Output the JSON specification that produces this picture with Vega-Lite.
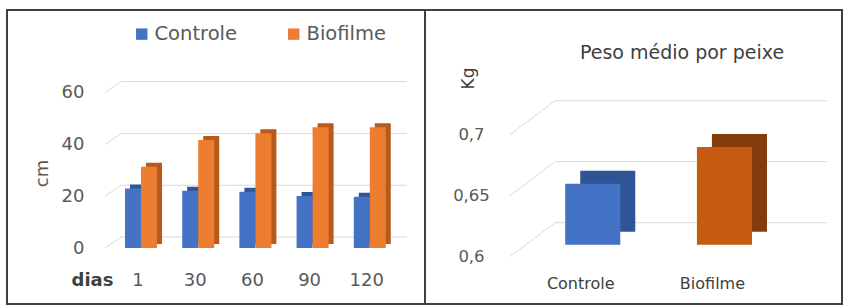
{
  "$schema": "https://vega.github.io/schema/vega-lite/v6.json",
  "background": "white",
  "padding": {"left": 6, "top": 9, "right": 0, "bottom": 0},
  "bounds": "flush",
  "spacing": 0,
  "config": {
    "font": "DejaVu Sans",
    "view": {"stroke": "#404040", "strokeWidth": 2},
    "axis": {"labelColor": "#595959", "titleColor": "#595959", "ticks": false, "tickSize": 0, "domain": false, "grid": false, "labelPadding": 0, "titleFontWeight": "normal"}
  },
  "resolve": {"scale": {"color": "independent"}, "legend": {"color": "independent"}},
  "hconcat": [
    {
      "width": 418,
      "height": 294,
      "data": {"values": [
        {"dia": "1", "grupo": "Controle", "cm": 23.0},
        {"dia": "1", "grupo": "Biofilme", "cm": 31.4},
        {"dia": "30", "grupo": "Controle", "cm": 22.1},
        {"dia": "30", "grupo": "Biofilme", "cm": 41.7},
        {"dia": "60", "grupo": "Controle", "cm": 21.7},
        {"dia": "60", "grupo": "Biofilme", "cm": 44.3},
        {"dia": "90", "grupo": "Controle", "cm": 20.1},
        {"dia": "90", "grupo": "Biofilme", "cm": 46.6},
        {"dia": "120", "grupo": "Controle", "cm": 19.8},
        {"dia": "120", "grupo": "Biofilme", "cm": 46.6}
      ]},
      "resolve": {"scale": {"x": "independent", "color": "independent"}, "legend": {"color": "independent"}},
      "layer": [
        {
          "data": {"values": [{"cm": 0}, {"cm": 20}, {"cm": 40}, {"cm": 60}]},
          "mark": {"type": "rule", "color": "#d9d9d9", "strokeWidth": 1, "yOffset": -11},
          "encoding": {
            "x": {"datum": 27.3, "type": "quantitative", "scale": {"domain": [0, 100], "nice": false}, "axis": null},
            "x2": {"datum": 95.7},
            "y": {"field": "cm", "type": "quantitative", "title": "cm", "scale": {"domain": [-21.6, 91.9], "nice": false, "zero": false}}
          }
        },
        {
          "data": {"values": [{"cm": 0}, {"cm": 20}, {"cm": 40}, {"cm": 60}]},
          "mark": {"type": "rule", "color": "#d9d9d9", "strokeWidth": 1, "y2Offset": -11},
          "encoding": {
            "x": {"datum": 23.4, "type": "quantitative", "scale": {"domain": [0, 100], "nice": false}, "axis": null},
            "x2": {"datum": 27.3},
            "y": {"field": "cm", "type": "quantitative", "title": "cm"},
            "y2": {"field": "cm"}
          }
        },
        {
          "mark": {"type": "bar", "yOffset": -4},
          "encoding": {
            "x": {"field": "dia", "type": "nominal", "sort": ["1", "30", "60", "90", "120"], "scale": {"range": [123, 383.8], "paddingInner": 0.44, "paddingOuter": 0}, "axis": null},
            "xOffset": {"field": "grupo", "sort": ["Controle", "Biofilme"]},
            "y": {"field": "cm", "type": "quantitative", "title": "cm"},
            "color": {"field": "grupo", "type": "nominal", "scale": {"domain": ["Controle", "Biofilme"], "range": ["#2f5597", "#b85a1c"]}, "legend": null}
          }
        },
        {
          "mark": {"type": "bar"},
          "encoding": {
            "x": {"field": "dia", "type": "nominal", "sort": ["1", "30", "60", "90", "120"], "scale": {"range": [118, 378.8], "paddingInner": 0.44, "paddingOuter": 0},
              "axis": {"orient": "bottom", "offset": -24, "labelBaseline": "middle", "labelFontSize": 18, "labelOffset": -3, "labelAngle": 0, "title": "dias", "titleX": 85, "titleY": 0, "titleBaseline": "middle", "titleAlign": "center", "titleFontWeight": "bold", "titleFontSize": 18, "titleColor": "#404040"}},
            "xOffset": {"field": "grupo", "sort": ["Controle", "Biofilme"]},
            "y": {"field": "cm", "type": "quantitative", "title": "cm",
              "axis": {"orient": "left", "offset": -77, "values": [0, 20, 40, 60], "labelAlign": "right", "labelBaseline": "middle", "labelFontSize": 18, "title": "cm", "titleX": -42, "titleY": 163, "titleAngle": -90, "titleAlign": "center", "titleBaseline": "middle", "titleFontSize": 18}},
            "color": {"field": "grupo", "type": "nominal", "scale": {"domain": ["Controle", "Biofilme"], "range": ["#4472c4", "#ed7d31"]},
              "legend": {"title": null, "orient": "none", "legendX": 125, "legendY": 14, "direction": "horizontal", "symbolType": "square", "symbolSize": 130, "symbolStrokeWidth": 0, "labelFontSize": 19.5, "labelColor": "#595959", "labelOffset": 3, "columnPadding": 47}}
          }
        }
      ]
    },
    {
      "width": 417,
      "height": 294,
      "title": {"text": "Peso médio por peixe", "anchor": "middle", "frame": "group", "offset": 0, "dx": 48.5, "dy": 62, "baseline": "middle", "fontSize": 19, "fontWeight": "normal", "color": "#404040"},
      "data": {"values": [
        {"grupo": "Controle", "kg": 0.65},
        {"grupo": "Biofilme", "kg": 0.68}
      ]},
      "resolve": {"scale": {"x": "independent", "color": "independent"}, "legend": {"color": "independent"}},
      "layer": [
        {
          "data": {"values": [{"kg": 0.6}, {"kg": 0.65}, {"kg": 0.7}]},
          "mark": {"type": "rule", "color": "#d9d9d9", "strokeWidth": 1, "yOffset": -34},
          "encoding": {
            "x": {"datum": 31.2, "type": "quantitative", "scale": {"domain": [0, 100], "nice": false}, "axis": null},
            "x2": {"datum": 96.4},
            "y": {"field": "kg", "type": "quantitative", "title": "Kg", "scale": {"domain": [0.5612, 0.8022], "nice": false, "zero": false}}
          }
        },
        {
          "data": {"values": [{"kg": 0.6}, {"kg": 0.65}, {"kg": 0.7}]},
          "mark": {"type": "rule", "color": "#d9d9d9", "strokeWidth": 1, "y2Offset": -34},
          "encoding": {
            "x": {"datum": 20.4, "type": "quantitative", "scale": {"domain": [0, 100], "nice": false}, "axis": null},
            "x2": {"datum": 31.2},
            "y": {"field": "kg", "type": "quantitative", "title": "Kg"},
            "y2": {"field": "kg"}
          }
        },
        {
          "mark": {"type": "bar", "xOffset": 15, "yOffset": -25, "y2Offset": -25},
          "encoding": {
            "x": {"field": "grupo", "type": "nominal", "sort": ["Controle", "Biofilme"], "scale": {"paddingInner": 0.582, "paddingOuter": 0.874, "align": 0.609}, "axis": null},
            "y": {"field": "kg", "type": "quantitative", "title": "Kg"},
            "y2": {"datum": 0.6},
            "color": {"field": "grupo", "type": "nominal", "scale": {"domain": ["Controle", "Biofilme"], "range": ["#2f5597", "#843c0c"]}, "legend": null}
          }
        },
        {
          "mark": {"type": "bar", "yOffset": -12, "y2Offset": -12},
          "encoding": {
            "x": {"field": "grupo", "type": "nominal", "sort": ["Controle", "Biofilme"], "scale": {"paddingInner": 0.582, "paddingOuter": 0.874, "align": 0.609},
              "axis": {"orient": "bottom", "offset": -21, "labelBaseline": "middle", "labelFontSize": 16, "labelOffset": -12, "labelAngle": 0, "labelColor": "#404040", "title": null}},
            "y": {"field": "kg", "type": "quantitative", "title": "Kg",
              "axis": {"orient": "left", "offset": -46, "values": [0.6, 0.65, 0.7], "labelExpr": "replace(format(datum.value, '.2~f'), '.', ',')", "labelAlign": "center", "labelBaseline": "middle", "labelFontSize": 16.5, "title": "Kg", "titleX": -2.3, "titleY": 68, "titleAngle": -90, "titleAlign": "center", "titleBaseline": "middle", "titleFontSize": 17, "titleColor": "#404040"}},
            "y2": {"datum": 0.6},
            "color": {"field": "grupo", "type": "nominal", "scale": {"domain": ["Controle", "Biofilme"], "range": ["#4472c4", "#c55a11"]}, "legend": null}
          }
        }
      ]
    }
  ]
}
